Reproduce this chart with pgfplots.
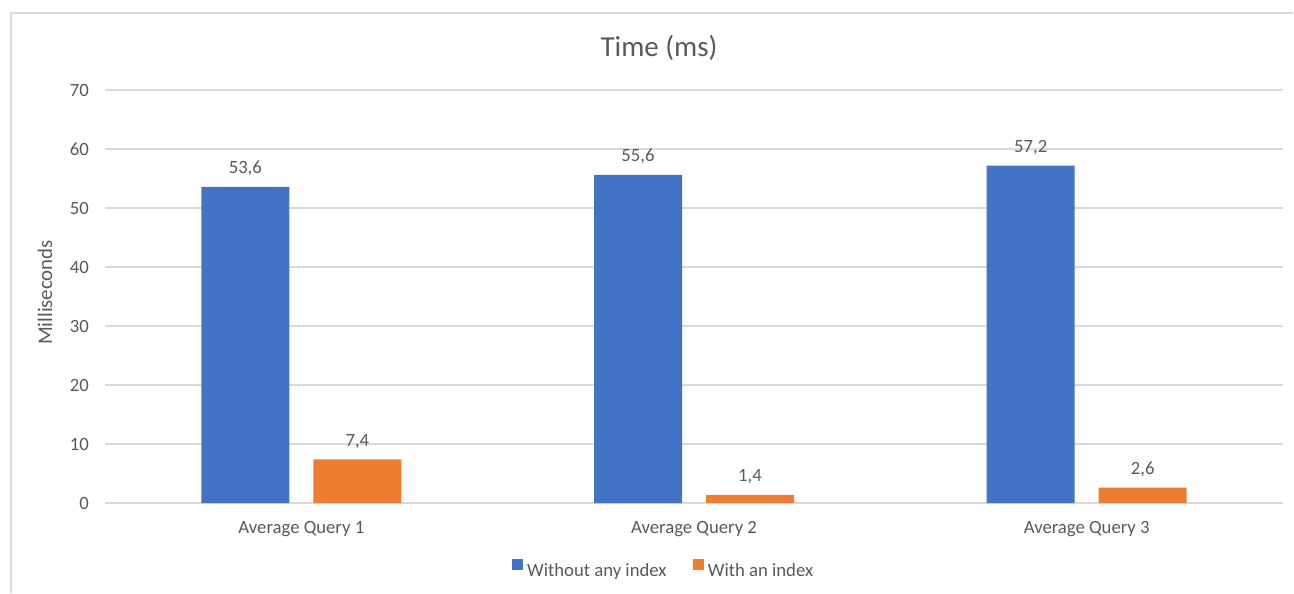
\documentclass[border=0pt]{standalone}
\usepackage{fontspec}
\setmainfont{Carlito}
\usepackage{pgfplots}
\pgfplotsset{compat=1.18}
\definecolor{barblue}{HTML}{4472C4}
\definecolor{barorange}{HTML}{ED7D31}
\definecolor{txtgray}{HTML}{595959}
\definecolor{gridgray}{HTML}{D9D9D9}
\newcommand\lblfont{\fontsize{18.7}{22}\selectfont}

\begin{document}
\begin{tikzpicture}
\begin{axis}[
  name=ax,
  scale only axis,
  width=1178pt, height=413pt,
  ybar=24pt, bar width=88pt,
  xmin=-0.5, xmax=2.5,
  ymin=0, ymax=70,
  xtick={0,1,2},
  xticklabels={Average Query 1, Average Query 2, Average Query 3},
  ytick={0,10,...,70},
  ymajorgrids,
  major grid style={gridgray, line width=1.5pt},
  axis line style={draw=none},
  major tick length=0pt,
  tick style={draw=none},
  /pgf/number format/assume math mode=true,
  ticklabel style={font=\lblfont, text=txtgray},
  yticklabel style={xshift=-12.7pt},
  xticklabel style={anchor=base, yshift=-30pt},
  title={Time (ms)},
  title style={font=\fontsize{29}{34}\selectfont, text=txtgray,
    at={(axis description cs:0.4703,1.0872)}, anchor=center},
  ylabel={Milliseconds},
  ylabel style={font=\fontsize{20.8}{24}\selectfont, text=txtgray,
    at={(axis description cs:-0.0509,0.5097)}, anchor=center},
  nodes near coords,
  nodes near coords style={font=\lblfont, text=txtgray, anchor=base, yshift=13pt,
    /pgf/number format/.cd, use comma, fixed, fixed zerofill, precision=1},
  legend columns=2,
  legend style={draw=none, font=\lblfont, text=txtgray,
    at={(axis description cs:0.4733,-0.1586)}, anchor=center,
    inner sep=0pt, nodes={inner sep=0pt},
    /tikz/every odd column/.append style={column sep=4.3pt},
    /tikz/every even column/.append style={column sep=26pt}},
  legend image code/.code={\fill[#1, draw=none] (0pt,0pt) rectangle (11pt,11pt);},
]
\addplot[fill=barblue, draw=none] coordinates {(0,53.6) (1,55.6) (2,57.2)};
\addplot[fill=barorange, draw=none] coordinates {(0,7.4) (1,1.4) (2,2.6)};
\legend{Without any index, With an index}
\end{axis}
% chart area border (left and top edges)
\draw[gridgray, line width=1.8pt]
  ([shift={(-94pt,-90pt)}]ax.south west) -- ([shift={(-94pt,77pt)}]ax.north west)
  -- ([shift={(10pt,77pt)}]ax.north east);
\path[use as bounding box] ([shift={(-105pt,-90pt)}]ax.south west)
  rectangle ([shift={(11pt,90pt)}]ax.north east);
\end{tikzpicture}
\end{document}
